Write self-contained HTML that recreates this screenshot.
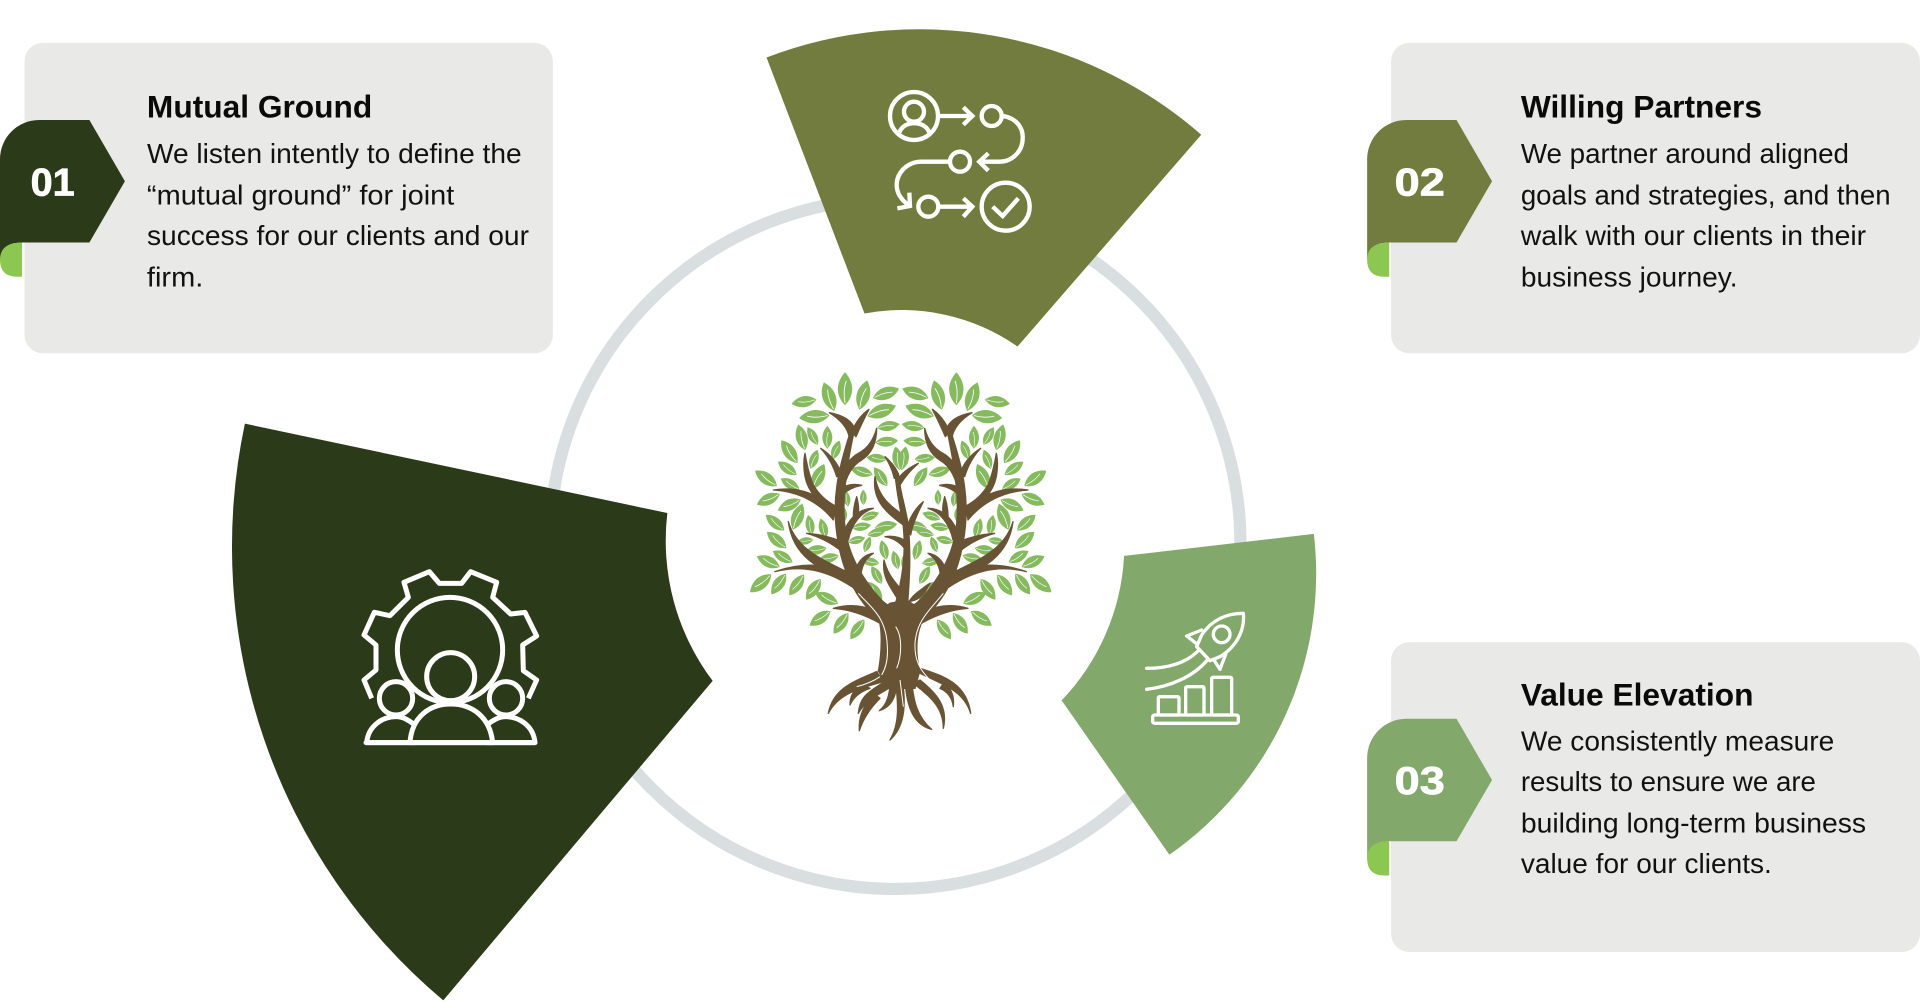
<!DOCTYPE html>
<html lang="en"><head><meta charset="utf-8"><title>Diagram</title>
<style>
html,body{margin:0;padding:0;background:#fff;width:1920px;height:1002px;overflow:hidden}
svg{display:block}
text{font-family:"Liberation Sans",sans-serif}
.b{font-size:23px;fill:#111}
.h{font-size:25.5px;font-weight:700;fill:#0a0a0a}
.n{font-size:32px;font-weight:700;fill:#fff;stroke:#fff;stroke-width:.6px}
</style></head><body>
<svg width="1920" height="1002" viewBox="0 0 1920 1002" xmlns="http://www.w3.org/2000/svg">
<defs>
<g id="l"><path d="M0 38C-24 14-20-16 0-38C20-16 24 14 0 38Z" fill="#86BA5F"/><path d="M0 33Q-5 4 3-18" fill="none" stroke="#fff" stroke-width="2"/></g>
<g id="half">
<g>
<use href="#l" transform="translate(222 125) rotate(-100)"/>
<use href="#l" transform="translate(297 110) rotate(-20) scale(1.2)"/>
<use href="#l" transform="translate(345 86) rotate(0) scale(1.3)"/>
<use href="#l" transform="translate(400 105) rotate(15) scale(1.2)"/>
<use href="#l" transform="translate(468 100) rotate(70) scale(1.1)"/>
<use href="#l" transform="translate(253 170) rotate(-95) scale(1.2)"/>
<use href="#l" transform="translate(455 153) rotate(70) scale(1.2)"/>
<use href="#l" transform="translate(475 198) rotate(80) scale(.9)"/>
<use href="#l" transform="translate(470 245) rotate(85) scale(.9)"/>
<use href="#l" transform="translate(215 232) rotate(-15) scale(1.05)"/>
<use href="#l" transform="translate(248 228) rotate(-30) scale(.8)"/>
<use href="#l" transform="translate(292 232) rotate(0) scale(.9)"/>
<use href="#l" transform="translate(318 270) rotate(20) scale(.8)"/>
<use href="#l" transform="translate(178 275) rotate(-35) scale(1.1)"/>
<use href="#l" transform="translate(252 298) rotate(20) scale(.8)"/>
<use href="#l" transform="translate(172 325) rotate(-55) scale(.9)"/>
<use href="#l" transform="translate(265 350) rotate(25) scale(1.1)"/>
<use href="#l" transform="translate(108 355) rotate(-55) scale(1.05)"/>
<use href="#l" transform="translate(180 372) rotate(-60) scale(.85)"/>
<use href="#l" transform="translate(115 418) rotate(-115)"/>
<use href="#l" transform="translate(178 435) rotate(-115)"/>
<use href="#l" transform="translate(203 470) rotate(20) scale(1.1)"/>
<use href="#l" transform="translate(135 488) rotate(-50) scale(.95)"/>
<use href="#l" transform="translate(240 495) rotate(-10) scale(.8)"/>
<use href="#l" transform="translate(280 505) rotate(-15) scale(.8)"/>
<use href="#l" transform="translate(140 540) rotate(-50)"/>
<use href="#l" transform="translate(225 543) rotate(-100) scale(.65)"/>
<use href="#l" transform="translate(115 605) rotate(-65)"/>
<use href="#l" transform="translate(158 590) rotate(-60) scale(.9)"/>
<use href="#l" transform="translate(258 570) rotate(-100) scale(.85)"/>
<use href="#l" transform="translate(295 595) rotate(-105) scale(.85)"/>
<use href="#l" transform="translate(92 670) rotate(-130) scale(1.1)"/>
<use href="#l" transform="translate(146 672) rotate(-145)"/>
<use href="#l" transform="translate(200 675) rotate(-145)"/>
<use href="#l" transform="translate(250 688) rotate(-145)"/>
<use href="#l" transform="translate(290 715) rotate(-65)"/>
<use href="#l" transform="translate(270 775) rotate(-125)"/>
<use href="#l" transform="translate(333 790) rotate(-145)"/>
<use href="#l" transform="translate(382 808) rotate(-145) scale(.95)"/>
<use href="#l" transform="translate(395 335) rotate(-75) scale(.9)"/>
<use href="#l" transform="translate(440 295) rotate(-85) scale(.8)"/>
<use href="#l" transform="translate(503 295) rotate(-10) scale(.95)"/>
<use href="#l" transform="translate(452 350) rotate(-35) scale(.9)"/>
<use href="#l" transform="translate(350 415) rotate(-10) scale(.65)"/>
<use href="#l" transform="translate(400 412) scale(.6)"/>
<use href="#l" transform="translate(340 460) rotate(-10) scale(.65)"/>
<use href="#l" transform="translate(420 468) rotate(70) scale(.75)"/>
<use href="#l" transform="translate(395 500) rotate(80) scale(.75)"/>
<use href="#l" transform="translate(468 498) rotate(80) scale(.9)"/>
<use href="#l" transform="translate(440 518) rotate(75) scale(.75)"/>
<use href="#l" transform="translate(380 540) rotate(75) scale(.7)"/>
<use href="#l" transform="translate(412 553) rotate(20) scale(.65)"/>
<use href="#l" transform="translate(462 570) rotate(-15) scale(.8)"/>
<use href="#l" transform="translate(497 600) rotate(-15) scale(.75)"/>
<use href="#l" transform="translate(420 605) rotate(-80) scale(.75)"/>
<use href="#l" transform="translate(440 645) rotate(-30) scale(.8)"/>
<use href="#l" transform="translate(435 695) rotate(-35) scale(.95)"/>
</g>
<g fill="#685434" stroke="#685434" stroke-width="4" stroke-linejoin="round">
<path d="M470 800C370 720 330 620 318 500C310 420 320 340 360 220L372 215C350 320 335 420 345 500C355 600 420 700 510 770Z"/>
<path d="M358 232Q350 190 298 158Q365 170 376 212Z"/>
<path d="M365 215Q385 170 417 148Q395 190 378 230Z"/>
<path d="M335 345Q350 300 385 280Q425 260 440 205Q440 270 395 300Q360 320 345 370Z"/>
<path d="M318 470C270 430 235 400 225 350Q218 310 225 280Q235 340 250 375C270 410 300 430 320 440Z"/>
<path d="M320 350Q305 300 272 265Q320 295 335 345Z"/>
<path d="M310 480C270 430 210 395 130 390C200 380 250 395 315 445Z"/>
<path d="M335 385Q360 368 395 376Q362 382 335 405Z"/>
<path d="M360 665C280 630 190 600 175 485C200 570 280 600 360 640Z"/>
<path d="M380 690C310 640 230 610 135 635C220 605 310 610 370 650Z"/>
<path d="M330 570Q285 535 230 520Q290 525 335 545Z"/>
<path d="M338 530C350 480 385 445 430 445C395 455 365 490 355 540Z"/>
<path d="M370 470Q370 440 380 410Q388 440 385 460Z"/>
<path d="M375 660C370 620 395 585 430 580C405 595 388 625 392 680Z"/>
<path d="M372 640C380 700 430 740 480 780L510 760C450 720 400 690 392 640Z"/>
<path d="M440 755Q380 725 310 745Q380 750 450 790Z"/>
</g>
</g>
</defs>

<!-- ring -->
<g transform="scale(1.22449)">
<circle cx="731" cy="444" r="282" fill="none" stroke="#D9DFE1" stroke-width="10"/>
<!-- sectors -->
<path d="M626 47A350 350 0 0 1 981 110L831 283A165 165 0 0 0 706 256Z" fill="#717C3E"/>
<path d="M200 346L545 419A190 190 0 0 0 582 556L362 817A484 484 0 0 1 200 346Z" fill="#2B3A18"/>
<path d="M918 454L1073 436A280 280 0 0 1 955 698L867 572A185 185 0 0 0 918 454Z" fill="#82A96B"/>
<!-- cards -->
<rect x="20" y="35" width="431.500" height="253.500" rx="15" fill="#E9E9E7"/>
<rect x="1136" y="35" width="432" height="253.500" rx="15" fill="#E9E9E7"/>
<rect x="1136" y="524.500" width="432" height="253" rx="15" fill="#E9E9E7"/>
<!-- tabs -->
<path d="M0 130A32 32 0 0 1 32 98H73L102 148L73 198H18Q0 198 0 214Z" fill="#2B3A18"/>
<path d="M18 198V226H14Q0 226 0 212Q0 198 18 198Z" fill="#8BC751"/>
<path d="M1116.500 130A32 32 0 0 1 1148.500 98H1189.500L1218.500 148L1189.500 198H1134.500Q1116.500 198 1116.500 214Z" fill="#717C3E"/>
<path d="M1134.500 198V226H1130.500Q1116.500 226 1116.500 212Q1116.500 198 1134.500 198Z" fill="#8BC751"/>
<path d="M1116.500 619A32 32 0 0 1 1148.500 587H1189.500L1218.500 637L1189.500 687H1134.500Q1116.500 687 1116.500 703Z" fill="#82A96B"/>
<path d="M1134.500 687V715H1130.500Q1116.500 715 1116.500 701Q1116.500 687 1134.500 687Z" fill="#8BC751"/>
<!-- numbers -->
<text class="n" x="25" y="159.500" textLength="36" lengthAdjust="spacingAndGlyphs">01</text>
<text class="n" x="1139" y="159.500" textLength="41" lengthAdjust="spacingAndGlyphs">02</text>
<text class="n" x="1139" y="648.500" textLength="41" lengthAdjust="spacingAndGlyphs">03</text>
<!-- card text -->
<text class="h" x="120" y="96" textLength="184" lengthAdjust="spacingAndGlyphs">Mutual Ground</text>
<text class="b" x="120" y="133" textLength="306" lengthAdjust="spacingAndGlyphs">We listen intently to define the</text>
<text class="b" x="120" y="167" textLength="251" lengthAdjust="spacingAndGlyphs">“mutual ground” for joint</text>
<text class="b" x="120" y="200" textLength="312" lengthAdjust="spacingAndGlyphs">success for our clients and our</text>
<text class="b" x="120" y="234" textLength="46" lengthAdjust="spacingAndGlyphs">firm.</text>
<text class="h" x="1242" y="96" textLength="197" lengthAdjust="spacingAndGlyphs">Willing Partners</text>
<text class="b" x="1242" y="133" textLength="268" lengthAdjust="spacingAndGlyphs">We partner around aligned</text>
<text class="b" x="1242" y="167" textLength="302" lengthAdjust="spacingAndGlyphs">goals and strategies, and then</text>
<text class="b" x="1242" y="200" textLength="282" lengthAdjust="spacingAndGlyphs">walk with our clients in their</text>
<text class="b" x="1242" y="234" textLength="177" lengthAdjust="spacingAndGlyphs">business journey.</text>
<text class="h" x="1242" y="576" textLength="190" lengthAdjust="spacingAndGlyphs">Value Elevation</text>
<text class="b" x="1242" y="613" textLength="256" lengthAdjust="spacingAndGlyphs">We consistently measure</text>
<text class="b" x="1242" y="646" textLength="241" lengthAdjust="spacingAndGlyphs">results to ensure we are</text>
<text class="b" x="1242" y="680" textLength="282" lengthAdjust="spacingAndGlyphs">building long-term business</text>
<text class="b" x="1242" y="713" textLength="205" lengthAdjust="spacingAndGlyphs">value for our clients.</text>
</g>

<!-- process icon -->
<g transform="translate(740 20) scale(.33333)" fill="none" stroke="#fff" stroke-width="13">
<circle cx="522" cy="288" r="72"/><circle cx="522" cy="275" r="30"/>
<path d="M478 338C490 300 555 300 568 338"/>
<path d="M595 288H695M670 262L697 288L670 314"/>
<circle cx="755" cy="288" r="30"/>
<path d="M790 288C830 295 850 325 848 355C848 395 815 425 780 425H720M745 400L718 425L745 452"/>
<circle cx="660" cy="425" r="30"/>
<path d="M628 425H545C500 425 470 460 470 495C470 520 485 540 505 555M508 518L510 558L472 565"/>
<circle cx="565" cy="560" r="30"/>
<path d="M597 560H695M670 535L697 560L670 590"/>
<circle cx="797" cy="560" r="72"/>
<path d="M758 560L788 588L835 535"/>
</g>

<!-- gear icon -->
<g transform="translate(340 550) scale(.33333)" fill="none" stroke="#fff" stroke-width="15" stroke-linejoin="round">
<path d="M95 445L72 390L108 360L108 285L72 255L103 187L150 197L205 142L192 97L268 65L298 100H365L392 65L470 97L458 142L512 192L555 187L590 258L548 285L550 362L590 390L565 445"/>
<circle cx="330" cy="300" r="158"/>
<g fill="#2B3A18">
<circle cx="168" cy="445" r="50"/><circle cx="498" cy="445" r="50"/>
<path d="M80 578C85 525 130 500 168 500C190 500 205 510 225 525L225 578Z"/>
<path d="M585 578C580 525 535 500 498 500C476 500 460 510 440 525L440 578Z"/>
<circle cx="332" cy="380" r="72"/>
<path d="M210 578C215 500 270 462 332 462C395 462 450 500 458 578Z"/>
</g>
<path d="M78 578H585" stroke-linecap="round"/>
</g>

<!-- rocket icon -->
<g transform="translate(1120 590) scale(.33333)" fill="none" stroke="#fff" stroke-width="10" stroke-linejoin="round" stroke-linecap="round">
<path d="M370 70C375 120 350 170 300 200L270 212L230 170L245 135C275 90 320 70 370 70Z"/>
<circle cx="305" cy="133" r="25"/>
<path d="M245 120L200 138L228 160M318 190L300 238L282 210"/>
<path d="M80 235C140 235 195 220 232 185M80 298C150 290 220 260 262 210"/>
<rect x="115" y="320" width="62" height="55" rx="4"/>
<rect x="197" y="290" width="55" height="85" rx="4"/>
<rect x="275" y="262" width="60" height="113" rx="4"/>
<rect x="98" y="375" width="257" height="25" rx="6"/>
</g>

<!-- tree -->
<g transform="translate(730 360) scale(.33333)">
<use href="#half"/>
<use href="#half" transform="translate(1024 0) scale(-1 1)"/>
<g fill="#685434" stroke="#685434" stroke-width="4" stroke-linejoin="round">
<path d="M480 780C510 700 530 600 520 500C510 440 500 400 495 340L505 340C510 400 530 450 535 500C545 600 535 700 530 770Z"/>
<path d="M493 355Q485 320 465 290Q500 320 507 350Z"/>
<path d="M498 365Q520 330 565 310Q530 340 510 375Z"/>
<path d="M520 495C470 460 425 420 435 350C445 410 480 440 528 470Z"/>
<path d="M530 510C535 480 555 445 580 425C565 455 548 490 542 525Z"/>
<path d="M524 565Q500 535 465 530Q505 525 528 545Z"/>
<path d="M505 720C480 680 455 650 462 600C475 650 500 670 518 695Z"/>
<path d="M525 755C535 710 565 695 600 670C580 710 560 725 530 725Z"/>
<path d="M440 760C460 800 455 880 445 935L570 935C555 880 555 810 590 760L530 720L480 730Z"/>
<path d="M445 930L570 930L555 985L470 985Z"/>
<path d="M440 935C370 965 310 985 295 1060C325 1000 390 985 460 965Z"/>
<path d="M400 975Q360 990 360 1035Q375 1000 420 985Z"/>
<path d="M470 960C430 990 390 1000 385 1060C410 1015 450 1005 490 975Z"/>
<path d="M480 965C480 1005 470 1035 448 1052C485 1040 500 1010 500 965Z"/>
<path d="M430 1000C400 1040 385 1070 388 1112C400 1075 420 1045 450 1015Z"/>
<path d="M495 950C505 1030 510 1090 480 1140C525 1100 530 1030 515 950Z"/>
<path d="M525 960C530 1050 555 1095 605 1108C560 1070 550 1020 545 960Z"/>
<path d="M550 970C600 1010 640 1040 640 1105C655 1040 620 1000 570 960Z"/>
<path d="M560 935C640 975 700 990 722 1060C710 975 650 950 570 925Z"/>
<path d="M630 985Q665 1000 670 1040Q675 990 640 970Z"/>
</g>
<g fill="none" stroke="#fff" stroke-width="3">
<path d="M385 700C420 740 470 770 472 860C474 890 470 920 455 945"/>
<path d="M640 700C600 750 560 780 555 850C553 900 570 930 600 960"/>
<path d="M497 800C518 830 515 890 500 925"/>
<path d="M380 980Q420 970 450 950M570 990Q600 1020 625 1060M510 960Q515 1000 520 1040"/>
</g>
</g>
</svg>
</body></html>
